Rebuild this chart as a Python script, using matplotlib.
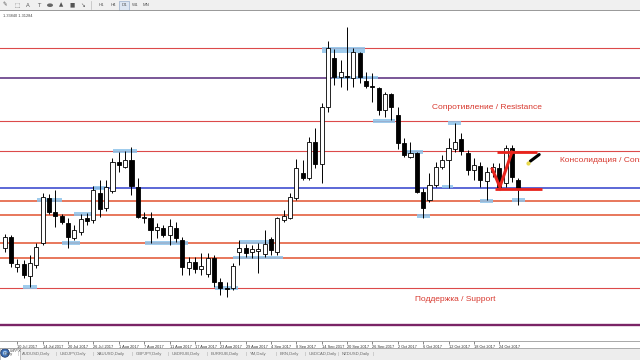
import matplotlib
matplotlib.use("Agg")
import matplotlib.pyplot as plt
from matplotlib.patches import Rectangle, Circle, Ellipse

plt.rcParams['font.family'] = ['Liberation Sans', 'DejaVu Sans']

# ---------------- data (GBPUSD, Daily) ----------------
opens = [1.2936, 1.2972, 1.2873, 1.2883, 1.2843, 1.2880, 1.2952, 1.3101, 1.3054, 1.3041,
         1.3018, 1.2969, 1.2988, 1.3035, 1.3028, 1.3117, 1.3068, 1.3124, 1.3219, 1.3203,
         1.3226, 1.3137, 1.3038, 1.3035, 1.2995, 1.3002, 1.2979, 1.3002, 1.2962, 1.2870,
         1.2889, 1.2866, 1.2850, 1.2903, 1.2823, 1.2804, 1.2804, 1.2922, 1.2936, 1.2922,
         1.2926, 1.2916, 1.2965, 1.2922, 1.3028, 1.3035, 1.3101, 1.3183, 1.3167, 1.3285,
         1.3213, 1.3401, 1.3563, 1.3500, 1.3502, 1.3497, 1.3579, 1.3487, 1.3469, 1.3464,
         1.3391, 1.3444, 1.3375, 1.3282, 1.3236, 1.3249, 1.3120, 1.3094, 1.3144, 1.3203,
         1.3226, 1.3262, 1.3295, 1.3249, 1.3193, 1.3206, 1.3157, 1.3186, 1.3200, 1.3150,
         1.3266, 1.3160]
highs = [1.2982, 1.2979, 1.2899, 1.2896, 1.2913, 1.2952, 1.3117, 1.3114, 1.3127, 1.3048,
         1.3035, 1.3012, 1.3048, 1.3051, 1.3140, 1.3160, 1.3160, 1.3233, 1.3252, 1.3256,
         1.3269, 1.3167, 1.3054, 1.3054, 1.3018, 1.3012, 1.3031, 1.3021, 1.2972, 1.2906,
         1.2906, 1.2919, 1.2919, 1.2913, 1.2837, 1.2823, 1.2886, 1.2962, 1.2949, 1.2946,
         1.2952, 1.2995, 1.2972, 1.3038, 1.3061, 1.3117, 1.3229, 1.3226, 1.3302, 1.3332,
         1.3414, 1.3619, 1.3592, 1.3556, 1.3665, 1.3596, 1.3582, 1.3516, 1.3513, 1.3467,
         1.3450, 1.3447, 1.3401, 1.3299, 1.3285, 1.3252, 1.3134, 1.3183, 1.3219, 1.3243,
         1.3299, 1.3348, 1.3315, 1.3259, 1.3233, 1.3219, 1.3203, 1.3216, 1.3216, 1.3276,
         1.3276, 1.3167]
lows = [1.2922, 1.2873, 1.2856, 1.2837, 1.2807, 1.2870, 1.2946, 1.3048, 1.3005, 1.3015,
        1.2936, 1.2962, 1.2979, 1.3012, 1.3018, 1.3038, 1.3058, 1.3117, 1.3186, 1.3200,
        1.3111, 1.3035, 1.3018, 1.2952, 1.2969, 1.2972, 1.2946, 1.2955, 1.2847, 1.2847,
        1.2853, 1.2847, 1.2840, 1.2807, 1.2781, 1.2774, 1.2797, 1.2880, 1.2906, 1.2903,
        1.2853, 1.2906, 1.2913, 1.2913, 1.3021, 1.3031, 1.3094, 1.3160, 1.3160, 1.3200,
        1.3150, 1.3384, 1.3474, 1.3467, 1.3457, 1.3467, 1.3480, 1.3464, 1.3417, 1.3375,
        1.3368, 1.3358, 1.3262, 1.3236, 1.3233, 1.3117, 1.3035, 1.3087, 1.3137, 1.3196,
        1.3134, 1.3252, 1.3243, 1.3177, 1.3160, 1.3137, 1.3094, 1.3170, 1.3134, 1.3137,
        1.3153, 1.3078]
closes = [1.2972, 1.2886, 1.2883, 1.2847, 1.2886, 1.2939, 1.3104, 1.3054, 1.3041, 1.3021,
          1.2972, 1.2995, 1.3031, 1.3025, 1.3127, 1.3064, 1.3137, 1.3219, 1.3210, 1.3226,
          1.3140, 1.3038, 1.3035, 1.2995, 1.3005, 1.2979, 1.3008, 1.2969, 1.2873, 1.2889,
          1.2866, 1.2876, 1.2903, 1.2823, 1.2804, 1.2800, 1.2876, 1.2936, 1.2919, 1.2932,
          1.2932, 1.2949, 1.2929, 1.3035, 1.3041, 1.3104, 1.3200, 1.3167, 1.3285, 1.3213,
          1.3401, 1.3596, 1.3500, 1.3516, 1.3500, 1.3582, 1.3500, 1.3470, 1.3467, 1.3391,
          1.3444, 1.3401, 1.3282, 1.3243, 1.3249, 1.3120, 1.3068, 1.3144, 1.3203, 1.3226,
          1.3266, 1.3285, 1.3256, 1.3193, 1.3210, 1.3160, 1.3186, 1.3203, 1.3137, 1.3266,
          1.3170, 1.3134]

tick_labels = ["10 Jul 2017", "14 Jul 2017", "20 Jul 2017", "26 Jul 2017", "1 Aug 2017",
               "7 Aug 2017", "11 Aug 2017", "17 Aug 2017", "23 Aug 2017", "29 Aug 2017",
               "4 Sep 2017", "8 Sep 2017", "14 Sep 2017", "20 Sep 2017", "26 Sep 2017",
               "2 Oct 2017", "6 Oct 2017", "12 Oct 2017", "18 Oct 2017", "24 Oct 2017"]
tick_bars = [2, 6, 10, 14, 18, 22, 26, 30, 34, 38, 42, 46, 50, 54, 58, 62, 66, 70, 74, 78]

level_prices = [1.3597, 1.3498, 1.3355, 1.3256, 1.3134, 1.3092, 1.3043, 1.2953, 1.2903, 1.2802, 1.2683]
level_kinds = ['thin', 'purple', 'thin', 'thin', 'blue', 'zone', 'zone', 'zone', 'zone', 'thin', 'purple2']

# highlighted touches (bar start, bar end, price)
hl_start = [2.9, 5.1, 9.0, 10.9, 13.9, 17.1, 22.1, 33.2, 36.0, 37.1, 50.1, 51.6, 58.1, 62.8, 65.0, 69.0, 69.9, 75.0, 80.0]
hl_end = [5.1, 9.0, 11.9, 13.9, 16.1, 20.9, 28.9, 36.8, 43.9, 41.8, 56.8, 58.9, 61.6, 66.0, 67.1, 70.7, 72.0, 77.0, 82.1]
hl_price = [1.2807, 1.3094, 1.2952, 1.3048, 1.3134, 1.3256, 1.2952, 1.2804, 1.2904, 1.2955, 1.3589, 1.3498, 1.3355, 1.3253, 1.3041, 1.3138, 1.3349, 1.3091, 1.3094]

cons_top = 1.3253
cons_bottom = 1.3130
check_x = [76.9, 78.1, 80.0]
check_y = [1.3196, 1.3137, 1.3252]

# ---------------- figure ----------------
W, H = 640, 360
fig = plt.figure(figsize=(6.4, 3.6), dpi=100)
fig.patch.set_facecolor('white')

ax = fig.add_axes([0, (H - 341) / H, 1, (341 - 12) / H])
ax.set_facecolor('white')
ax.set_xlim(-0.74, 100.2)
ax.set_ylim(1.26287, 1.37144)

style = {
    'thin': dict(color='#DC4A4A', lw=0.8),
    'zone': dict(color='#E4603F', lw=1.2),
    'blue': dict(color='#2F3FCC', lw=1.1),
    'purple': dict(color='#55287A', lw=1.1),
    'purple2': dict(color='#7A2466', lw=1.7),
}
for p, k in zip(level_prices, level_kinds):
    ax.axhline(p, zorder=1, **style[k])

hh = 0.0012
for s, e, p in zip(hl_start, hl_end, hl_price):
    h = 0.0019 if p > 1.355 else hh
    ax.add_patch(Rectangle((s, p - h / 2), e - s, h, facecolor='#8EC3EA',
                           edgecolor='none', alpha=0.85, zorder=2))

xs = list(range(len(opens)))
ax.vlines(xs, lows, highs, color='black', lw=0.7, zorder=3)
for i in xs:
    o, c = opens[i], closes[i]
    fc = 'white' if c >= o else 'black'
    h = c - o
    if abs(h) < 0.00005:
        ax.hlines(o, i - 0.32, i + 0.32, color='black', lw=0.8, zorder=4)
    else:
        ax.bar(i, h, bottom=o, width=0.64, color=fc, edgecolor='black', lw=0.6, zorder=4)

# consolidation drawing
ax.plot([77.6, 84.0], [cons_top, cons_top], color='#E8231C', lw=2.0, zorder=6, solid_capstyle='butt')
ax.plot([77.3, 84.7], [cons_bottom, cons_bottom], color='#E8231C', lw=2.0, zorder=6, solid_capstyle='butt')
ax.plot(check_x, check_y, color='#E8231C', lw=2.2, zorder=6, solid_joinstyle='miter')
# pen icon
ax.plot([82.9, 84.3], [1.3222, 1.3244], color='black', lw=2.2, zorder=7, solid_capstyle='round')
ax.plot([82.6], [1.3217], marker='o', ms=2.0, color='#E8D84A', zorder=8)

tc = '#D8392F'
ax.text(67.4, 1.3398, 'Сопротивление / Resistance', color=tc, fontsize=6, va='center', ha='left')
ax.text(87.6, 1.3223, 'Консолидация / Consolidation', color=tc, fontsize=6, va='center',
        ha='left', clip_on=True)
ax.text(64.7, 1.2767, 'Поддержка / Support', color=tc, fontsize=6, va='center', ha='left')

ax.text(0.004, 0.995, '1.33840 1.31284', transform=ax.transAxes, fontsize=2.8,
        color='#444444', va='top', ha='left')

for sp in ['top', 'left', 'right']:
    ax.spines[sp].set_visible(False)
ax.spines['bottom'].set_color('#9A9A9A')
ax.spines['bottom'].set_linewidth(0.6)
ax.set_yticks([])
ax.set_xticks(tick_bars)
ax.set_xticklabels(tick_labels, fontsize=2.8, ha='left', color='#333333')
ax.tick_params(axis='x', length=2, width=0.5, pad=0.6, colors='#555555', labelcolor='#333333')

# bottom tab bar
tb = fig.add_axes([0, 0, 1, 12 / H])
tb.set_xlim(0, W)
tb.set_ylim(0, 12)
tb.axis('off')
tb.add_patch(Rectangle((0, 0), W, 12, facecolor='#EDEDED', edgecolor='none'))
tb.add_patch(Rectangle((0, 0), 20, 12, facecolor='white', edgecolor='#AAAAAA', lw=0.5))
tb.plot([0, W], [11.8, 11.8], color='#A0A0A0', lw=0.6)
tabs = ["AUDUSD,Daily", "USDJPY,Daily", "XAUUSD,Daily", "GBPJPY,Daily", "USDRUB,Daily",
        "EURRUB,Daily", "YM,Daily", "BRN,Daily", "USDCAD,Daily", "NZDUSD,Daily"]
tab_x = [22, 60, 97, 136, 172, 211, 250, 280, 309, 342]
tb.text(4, 6, 'Daily', fontsize=3.0, color='#444444', va='center')
for t, x in zip(tabs, tab_x):
    tb.text(x, 6, t, fontsize=3.0, color='#666666', va='center', ha='left')
    tb.text(x - 4, 6, '|', fontsize=3.0, color='#999999', va='center', ha='center')
tb.text(373, 6, '|', fontsize=3.0, color='#999999', va='center', ha='center')
tb.add_patch(Circle((5, 7), 4.2, facecolor='#3C6FB5', edgecolor='#223C6A', lw=0.6))
tb.add_patch(Circle((5, 7), 2.2, facecolor='#9CC3EE', edgecolor='none'))
tb.text(10, 9, 'MTFX', fontsize=3.2, color='#4A4A4A', va='center', style='italic')

# top toolbar
tt = fig.add_axes([0, 1 - 11 / H, 1, 11 / H])
tt.set_xlim(0, W)
tt.set_ylim(0, 11)
tt.axis('off')
tt.add_patch(Rectangle((0, 0), W, 11, facecolor='#F0F0F0', edgecolor='none'))
tt.plot([0, W], [0.4, 0.4], color='#8A8A8A', lw=1.2)
icons = ['✎', '⬚', 'A', 'T', '▲', '■', '↘']
icon_x = [5, 17, 28, 39, 61, 72, 83]
for g, x in zip(icons, icon_x):
    tt.text(x, 5.8, g, fontsize=4, color='#555555', ha='center', va='center',
            family=['DejaVu Sans'])
tt.add_patch(Ellipse((50, 5.8), 6, 3.6, facecolor='#666666', edgecolor='none'))
tt.plot([91, 91], [2, 10], color='#BBBBBB', lw=0.5)
periods = ['H1', 'H4', 'D1', 'W1', 'MN']
period_x = [101, 113, 124, 135, 146]
tt.add_patch(Rectangle((119, 1.5), 10, 8.5, facecolor='#DDE6F2', edgecolor='#9AB0CC', lw=0.5))
for g, x in zip(periods, period_x):
    tt.text(x, 5.8, g, fontsize=3.2, color='#555555', ha='center', va='center')

fig.savefig('out.png', dpi=100)
